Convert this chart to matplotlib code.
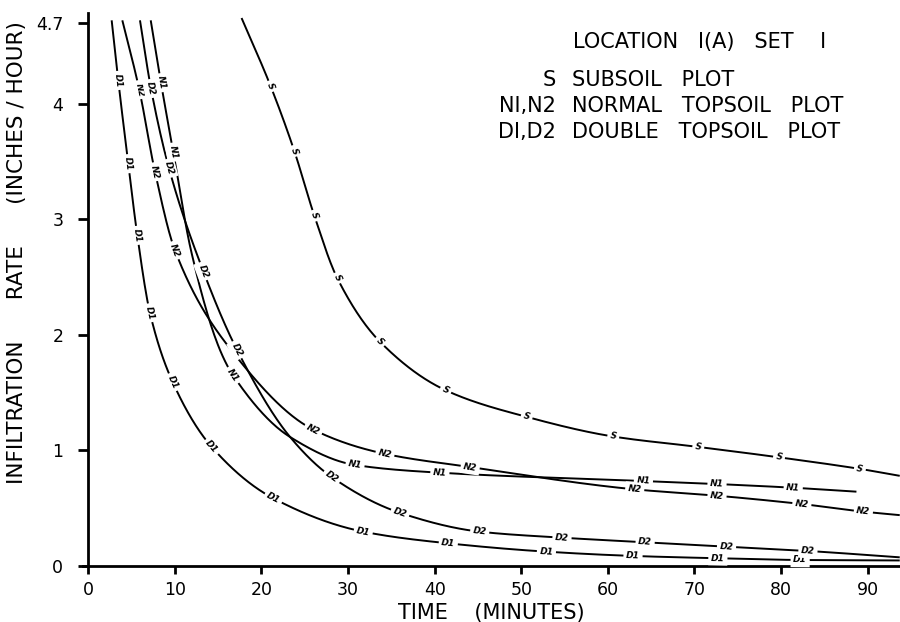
import numpy as np
import matplotlib
matplotlib.use("Agg")
import matplotlib.pyplot as plt

# ---------------- data ----------------
S_time = [17.7, 21.06, 23.79, 26.10, 28.75, 33.68, 41.27, 50.62, 60.62, 70.44, 79.76, 89.1, 93.7]
S_rate = [4.74, 4.15, 3.59, 3.03, 2.49, 1.94, 1.52, 1.29, 1.12, 1.03, 0.94, 0.84, 0.78]

N1_time = [7.21, 8.39, 9.82, 11.86, 15.2, 16.71, 23.3, 30.8, 40.6, 64.1, 72.6, 81.4, 88.7]
N1_rate = [4.72, 4.18, 3.58, 2.73, 1.87, 1.65, 1.116, 0.874, 0.807, 0.735, 0.709, 0.677, 0.643]

N2_time = [3.93, 5.89, 7.70, 10.01, 16.48, 25.98, 34.26, 44.1, 63.1, 72.6, 82.4, 89.5, 93.7]
N2_rate = [4.72, 4.12, 3.41, 2.73, 1.87, 1.18, 0.97, 0.856, 0.663, 0.608, 0.536, 0.47, 0.44]

D1_time = [2.70, 3.46, 4.62, 5.66, 7.12, 9.75, 14.25, 21.36, 31.75, 41.57, 52.9, 62.9, 72.7, 82.2, 93.7]
D1_rate = [4.72, 4.20, 3.48, 2.86, 2.19, 1.59, 1.03, 0.586, 0.297, 0.196, 0.124, 0.087, 0.067, 0.052, 0.048]

D2_time = [5.97, 7.24, 9.32, 13.28, 17.17, 23.3, 28.1, 36.0, 45.2, 54.7, 64.3, 73.7, 83.1, 93.7]
D2_rate = [4.72, 4.13, 3.44, 2.55, 1.87, 1.116, 0.77, 0.46, 0.297, 0.245, 0.205, 0.167, 0.130, 0.075]

# positions (minutes) of the in-line curve labels
S_label_t = [21.06, 23.79, 26.10, 28.75, 33.68, 41.27, 50.62, 60.62, 70.44, 79.76, 89.1]
N1_label_t = [8.39, 9.82, 16.71, 30.8, 40.6, 64.1, 72.6, 81.4]
N2_label_t = [5.89, 7.70, 10.01, 25.98, 34.26, 44.1, 63.1, 72.6, 82.4, 89.5]
D1_label_t = [3.46, 4.62, 5.66, 7.12, 9.75, 14.25, 21.36, 31.75, 41.57, 52.9, 62.9, 72.7, 82.2]
D2_label_t = [7.24, 9.32, 13.28, 17.17, 28.1, 36.0, 45.2, 54.7, 64.3, 73.7, 83.1]

x_ticks = [0, 10, 20, 30, 40, 50, 60, 70, 80, 90]
y_ticks = [0, 1, 2, 3, 4, 4.7]
y_tick_labels = ["0", "1", "2", "3", "4", "4.7"]

title_text = "LOCATION   I(A)   SET    I"
legend_keys = ["S", "NI,N2", "DI,D2"]
legend_desc = ["SUBSOIL   PLOT", "NORMAL   TOPSOIL   PLOT", "DOUBLE   TOPSOIL   PLOT"]
x_label = "TIME    (MINUTES)"
y_label = "INFILTRATION      RATE      (INCHES / HOUR)"


# ---------------- helpers ----------------
def pchip(x, y, xn):
    x = np.asarray(x, float); y = np.asarray(y, float); xn = np.asarray(xn, float)
    h = np.diff(x); d = np.diff(y) / h
    n = len(x); m = np.zeros(n)
    for k in range(1, n - 1):
        if d[k - 1] * d[k] > 0:
            w1 = 2 * h[k] + h[k - 1]; w2 = h[k] + 2 * h[k - 1]
            m[k] = (w1 + w2) / (w1 / d[k - 1] + w2 / d[k])
    m[0] = d[0]; m[-1] = d[-1]
    idx = np.clip(np.searchsorted(x, xn) - 1, 0, n - 2)
    hh = h[idx]; s = (xn - x[idx]) / hh
    h00 = 2 * s**3 - 3 * s**2 + 1; h10 = s**3 - 2 * s**2 + s
    h01 = -2 * s**3 + 3 * s**2; h11 = s**3 - s**2
    return h00 * y[idx] + h10 * hh * m[idx] + h01 * y[idx + 1] + h11 * hh * m[idx + 1]


W, H = 900, 622
fig = plt.figure(figsize=(W / 100, H / 100), dpi=100)
plt.rcParams["font.family"] = ["DejaVu Sans"]
ax = fig.add_axes([83 / W, (H - 566) / H, (W - 83) / W, 552.6 / H])
ax.set_xlim(-0.61, 93.73)
ax.set_ylim(0, 4.78)

for sp in ["top", "right"]:
    ax.spines[sp].set_visible(False)
ax.spines["left"].set_position(("data", 0))
for sp in ["left", "bottom"]:
    ax.spines[sp].set_linewidth(2.0)

ax.set_xticks(x_ticks)
ax.set_xticklabels([str(v) for v in x_ticks])
ax.set_yticks(y_ticks)
ax.set_yticklabels(y_tick_labels)
ax.tick_params(axis="x", direction="out", length=6, width=2.0, labelsize=12.5, pad=5)
ax.tick_params(axis="y", direction="out", length=7, width=2.0, labelsize=12.5, pad=11)

curves = [
    ("S", S_time, S_rate, S_label_t),
    ("N1", N1_time, N1_rate, N1_label_t),
    ("N2", N2_time, N2_rate, N2_label_t),
    ("D1", D1_time, D1_rate, D1_label_t),
    ("D2", D2_time, D2_rate, D2_label_t),
]

for name, tt, rr, lt in curves:
    ts = np.linspace(tt[0], tt[-1], 600)
    ys = pchip(tt, rr, ts)
    ax.plot(ts, ys, color="black", lw=1.4, solid_capstyle="butt", zorder=2, clip_on=False)
    for t0 in lt:
        y0 = float(pchip(tt, rr, [t0])[0])
        dt = 0.15
        ya = float(pchip(tt, rr, [max(t0 - dt, tt[0])])[0])
        yb = float(pchip(tt, rr, [min(t0 + dt, tt[-1])])[0])
        pa = ax.transData.transform((max(t0 - dt, tt[0]), ya))
        pb = ax.transData.transform((min(t0 + dt, tt[-1]), yb))
        ang = np.degrees(np.arctan2(pb[1] - pa[1], pb[0] - pa[0]))
        ax.text(t0, y0, name, rotation=ang, rotation_mode="anchor", ha="center", va="center",
                fontsize=6.5, fontweight="bold", style="italic", zorder=4,
                bbox=dict(boxstyle="square,pad=0.3", fc="white", ec="none"))

# title / legend block
fig.text(573 / W, 1 - 41.7 / H, title_text, ha="left", va="center", fontsize=15)
rows_y = [80, 106.5, 132]
for key, desc, yy in zip(legend_keys, legend_desc, rows_y):
    fig.text(556 / W, 1 - yy / H, key, ha="right", va="center", fontsize=15)
    fig.text(572 / W, 1 - yy / H, desc, ha="left", va="center", fontsize=15)

fig.text(491 / W, 1 - 613 / H, x_label, ha="center", va="center", fontsize=15)
fig.text(17.5 / W, 1 - 253 / H, y_label, ha="center", va="center", rotation=90, fontsize=15.5)

fig.savefig("out.png", dpi=100)
